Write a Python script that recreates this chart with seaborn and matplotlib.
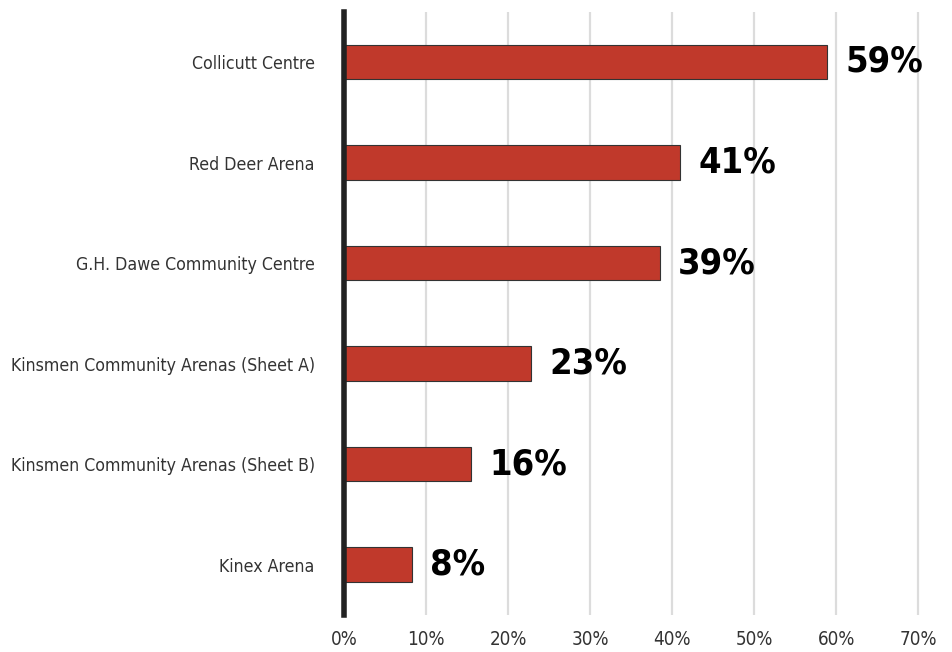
import pandas as pd
import matplotlib.pyplot as plt
import seaborn as sns

# ==========================================
# DATA
# ==========================================

venues = [
    "Collicutt Centre",
    "Red Deer Arena",
    "G.H. Dawe Community Centre",
    "Kinsmen Community Arenas (Sheet A)",
    "Kinsmen Community Arenas (Sheet B)",
    "Kinex Arena",
]
shares = [59, 41, 39, 23, 16, 8]
bar_widths = [58.9, 41.0, 38.5, 22.8, 15.5, 8.3]
x_ticks = [0, 10, 20, 30, 40, 50, 60, 70]

df = pd.DataFrame({"venue": venues, "share": bar_widths, "label": shares})

# ==========================================
# PLOT
# ==========================================

sns.set_theme(style="white")
plt.rcParams["font.family"] = ["Liberation Sans Narrow", "DejaVu Sans"]
plt.rcParams["font.stretch"] = "condensed"

fig = plt.figure(figsize=(9.53, 6.52), dpi=100)
ax = fig.add_axes([0.361, 0.057, 0.611, 0.925])

sns.barplot(
    data=df,
    x="share",
    y="venue",
    color="#C0392B",
    saturation=1,
    edgecolor="#333333",
    linewidth=0.8,
    width=0.34,
    ax=ax,
)

ax.set_xlim(0, 71)
ax.set_xticks(x_ticks)
ax.set_xticklabels([f"{t}%" for t in x_ticks], fontsize=13.5, color="#333333")
ax.tick_params(axis="y", labelsize=12.7, colors="#333333", length=0, pad=21)
ax.tick_params(axis="x", length=0, pad=11)
ax.set_xlabel("")
ax.set_ylabel("")

ax.grid(axis="x", color="#dcdcdc", linewidth=1.6)
ax.set_axisbelow(True)

for side in ["top", "right", "bottom"]:
    ax.spines[side].set_visible(False)
ax.spines["left"].set_linewidth(4)
ax.spines["left"].set_color("#222222")

for i, (w, lab) in enumerate(zip(bar_widths, shares)):
    ax.text(
        w + 2.2, i, f"{lab}%",
        va="center", ha="left",
        fontsize=26, fontweight="bold", color="#000000",
    )

fig.savefig("out.png", dpi=100)
